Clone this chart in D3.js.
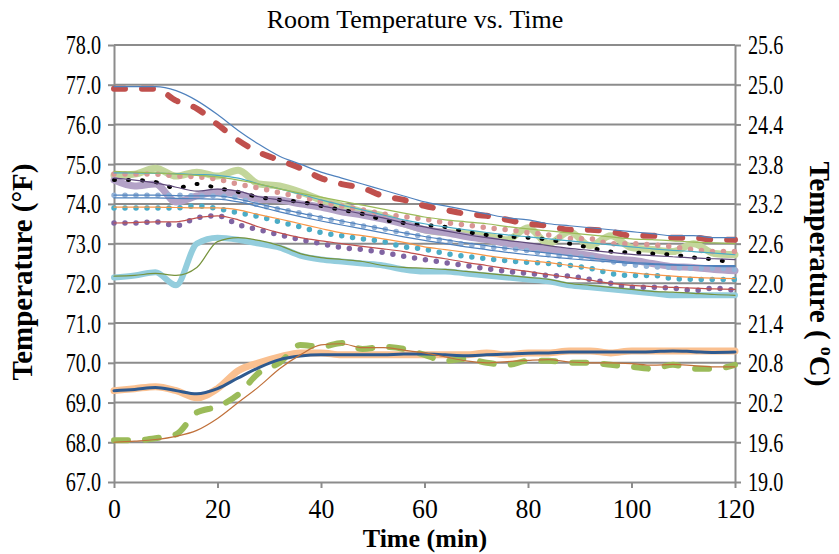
<!DOCTYPE html>
<html>
<head>
<meta charset="utf-8">
<script src="https://cdn.jsdelivr.net/npm/d3@7"></script>
<style>
  body { margin: 0; background: #fff; }
  text { font-family: "Liberation Serif", "Times New Roman", serif; }
</style>
</head>
<body>
<div id="chart"></div>
<script>
// time axis (min), one reading every 4 minutes
const minutes = [0, 4, 8, 12, 16, 20, 24, 28, 32, 36,
                 40, 44, 48, 52, 56, 60, 64, 68, 72, 76,
                 80, 84, 88, 92, 96, 100, 104, 108, 112, 116, 120];

const fTicks = [67, 68, 69, 70, 71, 72, 73, 74, 75, 76, 77, 78];
const cTicks = [19.0, 19.6, 20.2, 20.8, 21.4, 22.0, 22.6, 23.2, 23.8, 24.4, 25.0, 25.6];
const xTicks = [0, 20, 40, 60, 80, 100, 120];

// measured series (°F)
const redRaw = [76.9, 76.9, 76.9, 76.6, 76.4, 76.0, 75.6, 75.3, 75.1, 74.9,
                74.65, 74.5, 74.4, 74.2, 74.1, 73.95, 73.85, 73.75, 73.7, 73.6,
                73.5, 73.45, 73.35, 73.35, 73.3, 73.2, 73.2, 73.15, 73.15, 73.1, 73.1];
const redFit = [76.95, 76.95, 76.95, 76.85, 76.6, 76.25, 75.85, 75.5, 75.2, 75.0,
                74.8, 74.65, 74.5, 74.35, 74.2, 74.05, 73.95, 73.85, 73.75, 73.65,
                73.6, 73.5, 73.45, 73.4, 73.35, 73.3, 73.25, 73.2, 73.2, 73.15, 73.15];

const aquaRaw = [72.15, 72.2, 72.28, 71.95, 73.0, 73.15, 73.1, 73.0, 72.9, 72.7,
                 72.6, 72.55, 72.5, 72.45, 72.35, 72.3, 72.3, 72.25, 72.2, 72.15,
                 72.1, 72.05, 71.95, 71.9, 71.85, 71.8, 71.75, 71.7, 71.7, 71.7, 71.7];
const aquaFit = [72.18, 72.2, 72.25, 72.2, 72.4, 73.05, 73.15, 73.08, 72.95, 72.75,
                 72.65, 72.6, 72.55, 72.45, 72.4, 72.38, 72.35, 72.3, 72.25, 72.2,
                 72.15, 72.1, 72.0, 71.95, 71.9, 71.85, 71.8, 71.78, 71.75, 71.72, 71.7];

const peachRaw = [69.3, 69.35, 69.4, 69.3, 69.12, 69.35, 69.8, 70.0, 70.15, 70.25,
                  70.25, 70.2, 70.2, 70.2, 70.2, 70.2, 70.2, 70.2, 70.25, 70.2,
                  70.25, 70.25, 70.3, 70.3, 70.25, 70.3, 70.3, 70.3, 70.3, 70.3, 70.3];
const peachFit = [69.3, 69.33, 69.38, 69.3, 69.22, 69.35, 69.62, 69.88, 70.08, 70.17,
                  70.2, 70.2, 70.2, 70.2, 70.22, 70.22, 70.2, 70.18, 70.2, 70.22,
                  70.24, 70.25, 70.27, 70.27, 70.27, 70.27, 70.28, 70.3, 70.28, 70.26, 70.27];

const greenRaw = [68.05, 68.05, 68.1, 68.2, 68.75, 68.9, 69.2, 69.75, 70.0, 70.45,
                  70.4, 70.5, 70.35, 70.4, 70.35, 70.2, 70.05, 70.1, 70.0, 69.95,
                  70.05, 70.05, 70.0, 70.0, 69.95, 69.9, 69.85, 69.95, 69.85, 69.85, 69.95];
const greenFit = [68.0, 68.03, 68.07, 68.15, 68.3, 68.6, 69.0, 69.4, 69.85, 70.2,
                  70.45, 70.48, 70.38, 70.38, 70.32, 70.25, 70.15, 70.05, 70.0, 70.03,
                  70.06, 70.08, 70.02, 70.0, 70.0, 69.98, 69.94, 69.96, 69.93, 69.9, 69.9];

const violetRaw = [73.52, 73.52, 73.55, 73.45, 73.65, 73.7, 73.48, 73.35, 73.22, 73.1,
                   73.0, 72.9, 72.85, 72.78, 72.68, 72.6, 72.52, 72.45, 72.37, 72.3,
                   72.25, 72.2, 72.18, 72.1, 72.0, 71.9, 71.9, 71.88, 71.82, 71.88, 71.82];
const violetFit = [73.52, 73.53, 73.55, 73.55, 73.65, 73.7, 73.6, 73.42, 73.27, 73.15,
                   73.07, 73.0, 72.93, 72.87, 72.8, 72.7, 72.62, 72.53, 72.45, 72.37,
                   72.3, 72.22, 72.15, 72.08, 72.0, 71.95, 71.92, 71.9, 71.88, 71.86, 71.85];

const tealRaw = [73.9, 73.9, 73.9, 73.9, 73.95, 73.88, 73.78, 73.68, 73.55, 73.42,
                 73.28, 73.2, 73.12, 73.05, 72.92, 72.86, 72.75, 72.68, 72.62, 72.57,
                 72.53, 72.5, 72.45, 72.38, 72.25, 72.2, 72.2, 72.12, 72.1, 72.1, 72.1];
const tealFit = [73.92, 73.92, 73.92, 73.91, 73.9, 73.9, 73.85, 73.73, 73.62, 73.5,
                 73.38, 73.27, 73.2, 73.12, 73.03, 72.92, 72.85, 72.78, 72.7, 72.63,
                 72.57, 72.52, 72.45, 72.38, 72.32, 72.27, 72.22, 72.18, 72.15, 72.13, 72.12];

const skyRaw = [74.22, 74.22, 74.22, 74.22, 74.2, 74.2, 74.15, 73.97, 73.87, 73.77,
                73.65, 73.55, 73.45, 73.37, 73.27, 73.17, 73.07, 72.98, 72.92, 72.88,
                72.82, 72.72, 72.68, 72.65, 72.55, 72.47, 72.42, 72.4, 72.38, 72.38, 72.35];
const skyFit = [74.22, 74.22, 74.22, 74.21, 74.2, 74.2, 74.12, 74.0, 73.88, 73.77,
                73.67, 73.57, 73.47, 73.37, 73.27, 73.18, 73.1, 73.02, 72.95, 72.88,
                72.82, 72.76, 72.7, 72.64, 72.58, 72.53, 72.5, 72.47, 72.45, 72.43, 72.42];

const blackRaw = [74.6, 74.6, 74.55, 74.4, 74.5, 74.4, 74.3, 74.17, 74.1, 74.05,
                  73.95, 73.85, 73.75, 73.6, 73.52, 73.47, 73.42, 73.3, 73.22, 73.18,
                  73.15, 73.1, 73.0, 72.9, 72.8, 72.78, 72.75, 72.72, 72.65, 72.6, 72.5];
const blackFit = [74.15, 74.15, 74.15, 74.14, 74.13, 74.12, 74.05, 73.93, 73.8, 73.68,
                  73.57, 73.47, 73.37, 73.27, 73.17, 73.08, 73.0, 72.92, 72.85, 72.78,
                  72.72, 72.67, 72.62, 72.58, 72.54, 72.5, 72.48, 72.46, 72.45, 72.45, 72.45];

const lilacRaw = [74.6, 74.45, 74.5, 74.05, 74.2, 74.3, 74.25, 74.12, 74.1, 74.0,
                  73.92, 73.8, 73.72, 73.62, 73.5, 73.35, 73.28, 73.18, 73.1, 73.0,
                  72.92, 72.85, 72.78, 72.7, 72.62, 72.58, 72.5, 72.42, 72.4, 72.35, 72.32];
const lilacFit = [74.65, 74.6, 74.53, 74.42, 74.32, 74.37, 74.32, 74.18, 74.1, 74.03,
                  73.95, 73.85, 73.75, 73.65, 73.52, 73.42, 73.32, 73.23, 73.15, 73.08,
                  73.02, 72.95, 72.88, 72.83, 72.78, 72.73, 72.7, 72.67, 72.64, 72.62, 72.6];

const limeRaw = [74.72, 74.75, 74.9, 74.7, 74.8, 74.7, 74.85, 74.5, 74.45, 74.3,
                 74.1, 73.95, 73.8, 73.7, 73.5, 73.35, 73.28, 73.25, 73.2, 73.1,
                 73.4, 73.0, 73.3, 72.95, 73.2, 72.9, 72.85, 72.8, 73.0, 72.75, 72.72];
const limeFit = [74.78, 74.78, 74.77, 74.76, 74.74, 74.72, 74.65, 74.5, 74.38, 74.25,
                 74.1, 73.97, 73.85, 73.72, 73.6, 73.5, 73.42, 73.35, 73.28, 73.22,
                 73.17, 73.12, 73.07, 73.02, 72.97, 72.92, 72.87, 72.83, 72.8, 72.76, 72.72];

const roseRaw = [74.75, 74.75, 74.75, 74.7, 74.68, 74.62, 74.5, 74.4, 74.28, 74.18,
                 74.05, 73.95, 73.85, 73.75, 73.68, 73.62, 73.53, 73.47, 73.4, 73.35,
                 73.28, 73.22, 73.13, 73.12, 73.0, 73.0, 72.97, 72.92, 72.85, 72.8, 72.8];
const roseFit = [74.82, 74.8, 74.78, 74.75, 74.72, 74.68, 74.6, 74.5, 74.38, 74.27,
                 74.17, 74.07, 73.97, 73.87, 73.77, 73.67, 73.6, 73.55, 73.5, 73.43,
                 73.37, 73.32, 73.27, 73.22, 73.17, 73.12, 73.1, 73.07, 73.04, 73.02, 73.0];

// chart size
const margin = { top: 45, right: 104, bottom: 72, left: 114 };
const width = 839 - margin.left - margin.right;
const height = 554 - margin.top - margin.bottom;

const svg = d3.select("#chart")
    .append("svg")
    .attr("width", width + margin.left + margin.right)
    .attr("height", height + margin.top + margin.bottom);

const g = svg.append("g")
    .attr("transform", "translate(" + margin.left + "," + margin.top + ")");

const x = d3.scaleLinear().domain([0, 120]).range([0, width]);
const y = d3.scaleLinear().domain([67, 78]).range([height, 0]);
const yC = d3.scaleLinear().domain([19.0, 25.6]).range([height, 0]);

const gridColor = "#8c8c8c";

// squeeze text sideways, the source font is a narrow Times
function squeeze(sel, k) {
    sel.each(function() {
        const w = this.getComputedTextLength();
        d3.select(this).attr("textLength", w * k).attr("lengthAdjust", "spacingAndGlyphs");
    });
}

// horizontal gridlines
g.selectAll(".grid")
    .data(fTicks.slice(1))
    .enter()
    .append("line")
    .attr("x1", 0)
    .attr("x2", width)
    .attr("y1", d => y(d))
    .attr("y2", d => y(d))
    .attr("stroke", gridColor)
    .attr("stroke-width", 2);

// axes
function styleAxis(sel, k) {
    sel.attr("font-family", null).attr("font-size", null);
    sel.select(".domain").attr("stroke", gridColor).attr("stroke-width", 2);
    sel.selectAll(".tick line").attr("stroke", gridColor).attr("stroke-width", 2);
    sel.selectAll("text").attr("fill", "#000")
        .style("font-family", "'Liberation Serif', serif")
        .style("font-size", "28px");
    squeeze(sel.selectAll("text"), k);
}

g.append("g")
    .call(d3.axisLeft(y).tickValues(fTicks).tickFormat(d3.format(".1f")).tickSize(6).tickSizeOuter(0).tickPadding(7))
    .call(styleAxis, 0.72);

g.append("g")
    .attr("transform", "translate(" + width + ",0)")
    .call(d3.axisRight(yC).tickValues(cTicks).tickFormat(d3.format(".1f")).tickSize(6).tickSizeOuter(0).tickPadding(7))
    .call(styleAxis, 0.72);

g.append("g")
    .attr("transform", "translate(0," + height + ")")
    .call(d3.axisBottom(x).tickValues(xTicks).tickSize(6).tickSizeOuter(0).tickPadding(10))
    .call(styleAxis, 0.92);

// series
const rawSeries = [
    { v: aquaRaw,   color: "#93cddd", w: 6 },
    { v: peachRaw,  color: "#fac090", w: 7 },
    { v: limeRaw,   color: "#c3d69b", w: 7 },
    { v: lilacRaw,  color: "#b3a2c7", w: 7 },
    { v: redRaw,    color: "#c0504d", w: 6, dash: "11,17" },
    { v: greenRaw,  color: "#9bbb59", w: 6, dash: "14,17" },
    { v: roseRaw,   color: "#d99694", w: 5.5, dash: "0,11" },
    { v: skyRaw,    color: "#95b3d7", w: 5.5, dash: "0,11" },
    { v: tealRaw,   color: "#4bacc6", w: 5.5, dash: "0,11" },
    { v: violetRaw, color: "#8064a2", w: 5.5, dash: "0,11" },
    { v: blackRaw,  color: "#000000", w: 4, dash: "1,13" }
];

const fitSeries = [
    { v: redFit,    color: "#4f81bd", w: 1.2 },
    { v: aquaFit,   color: "#77933c", w: 1.2 },
    { v: peachFit,  color: "#2f5a8f", w: 3 },
    { v: greenFit,  color: "#c0703a", w: 1.2 },
    { v: violetFit, color: "#c0504d", w: 1.2 },
    { v: tealFit,   color: "#f79646", w: 1.2 },
    { v: skyFit,    color: "#4f81bd", w: 1.2 },
    { v: blackFit,  color: "#4f81bd", w: 1.2 },
    { v: lilacFit,  color: "#604a7b", w: 1.2 },
    { v: limeFit,   color: "#4bacc6", w: 1.2 },
    { v: roseFit,   color: "#9bbb59", w: 1.2 }
];

const line = d3.line()
    .x((d, i) => x(minutes[i]))
    .y(d => y(d))
    .curve(d3.curveMonotoneX);

const plot = g.append("g");

rawSeries.concat(fitSeries).forEach(s => {
    plot.append("path")
        .datum(s.v)
        .attr("d", line)
        .attr("fill", "none")
        .attr("stroke", s.color)
        .attr("stroke-width", s.w)
        .attr("stroke-linecap", "round")
        .attr("stroke-linejoin", "round")
        .attr("stroke-dasharray", s.dash || null);
});

// titles
svg.append("text")
    .attr("x", 415)
    .attr("y", 28)
    .attr("text-anchor", "middle")
    .style("font-size", "26px")
    .text("Room Temperature vs. Time");

svg.append("text")
    .attr("x", 425)
    .attr("y", 547)
    .attr("text-anchor", "middle")
    .style("font-size", "26px")
    .style("font-weight", "bold")
    .text("Time (min)");

svg.append("text")
    .attr("transform", "translate(32," + 272 + ") rotate(-90)")
    .attr("text-anchor", "middle")
    .style("font-size", "29px")
    .style("font-weight", "bold")
    .text("Temperature (°F)");

const rightTitle = svg.append("text")
    .attr("transform", "translate(810," + 274 + ") rotate(90)")
    .attr("text-anchor", "middle")
    .style("font-size", "29px")
    .style("font-weight", "bold");
rightTitle.append("tspan").text("Temperature ( ");
rightTitle.append("tspan").attr("dy", -11).style("font-size", "18px").text("o");
rightTitle.append("tspan").attr("dy", 11).text("C)");
</script>
</body>
</html>
